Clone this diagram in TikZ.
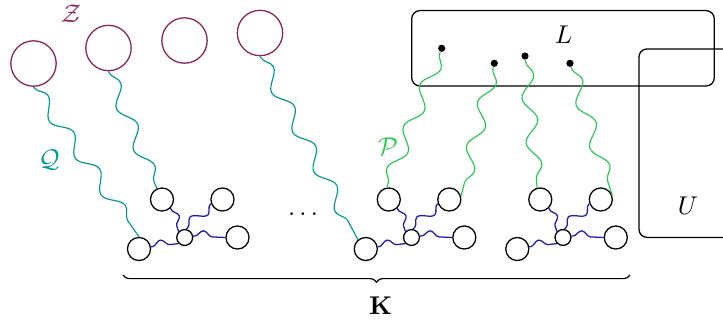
\documentclass[tikz,border=0pt]{standalone}
\usetikzlibrary{decorations.pathmorphing,decorations.pathreplacing}
\definecolor{zcol}{RGB}{140,35,90}
\definecolor{qcol}{RGB}{0,150,150}
\definecolor{pcol}{RGB}{40,200,80}
\definecolor{bcol}{RGB}{30,30,170}
\begin{document}
\begin{tikzpicture}[x=0.39pt,y=-0.39pt,
  zv/.style={circle,draw=zcol,line width=0.5pt,minimum size=17.7pt,inner sep=0pt},
  vtx/.style={circle,draw=black,line width=0.5pt,minimum size=9pt,inner sep=0pt},
  smallv/.style={circle,draw=black,line width=0.5pt,minimum size=6.2pt,inner sep=0pt},
  dotn/.style={circle,fill=black,minimum size=2.8pt,inner sep=0pt},
  boxn/.style={draw=black,line width=0.5pt,rounded corners=3.2pt,inner sep=0pt},
  qpath/.style={draw=qcol,line width=0.45pt,decorate,decoration={snake,segment length=17.5pt,amplitude=2.7pt,pre length=0.5pt,post length=0.5pt}},
  ppath/.style={draw=pcol,line width=0.45pt,decorate,decoration={snake,segment length=17.5pt,amplitude=2.7pt,pre length=0.5pt,post length=0.5pt}},
  bpath/.style={draw=bcol,line width=0.5pt,decorate,decoration={snake,segment length=11pt,amplitude=2.2pt,pre length=0.5pt,post length=0.5pt}},
  gadget/.pic={
    \node[smallv] (-c) at (0,0) {};
    \node[vtx] (-tl) at (-22.7,-38) {};
    \node[vtx] (-tr) at (37.8,-38) {};
    \node[vtx] (-bl) at (-45.7,11.5) {};
    \node[vtx] (-r) at (52.8,0) {};
    \draw[bpath] (-tl.-45) -- (-c.135);
    \draw[bpath] (-tr.200) -- (-c.80);
    \draw[bpath] (-c.10) -- (-r.180);
    \draw[bpath] (-bl.10) -- (-c.225);
  }]
\useasboundingbox (0,0) rectangle (723,322);
\clip (0,0) rectangle (723,322);

% Z circles
\node[zv] (z1) at (33.5,63.5) {};
\node[zv] (z2) at (108.5,48) {};
\node[zv] (z3) at (184.5,40.5) {};
\node[zv] (z4) at (260,33) {};
\node[text=zcol] (zlab) at (71,13.5) {$\mathcal{Z}$};

% gadgets
\pic (g1) at (184.7,237.5) {gadget};
\pic (g2) at (411.5,237.5) {gadget};
\pic (g3) at (563,237.5) {gadget};
\node[anchor=base] (dots) at (303,215.5) {$\ldots$};

% boxes
\node[boxn,minimum width=118pt,minimum height=29.4pt] (Lbox) at (563,48.3) {};
\node (Llab) at (563.5,35) {$L$};
\node[boxn,anchor=north west,minimum width=60pt,minimum height=73.5pt] (Ubox) at (638.3,48.3) {};
\node (Ulab) at (688,206) {$U$};

% dots in L
\node[dotn] (d1) at (441.7,48.3) {};
\node[dotn] (d2) at (494.3,63.3) {};
\node[dotn] (d3) at (525,56) {};
\node[dotn] (d4) at (570,63.3) {};

% Q paths
\draw[qpath] (z1.south) -- (g1-bl.north);
\draw[qpath] (z2.south) -- (g1-tl.115);
\draw[qpath] (z4.south) -- (g2-bl.130);
\node[text=qcol] (qlab) at (49,160) {$\mathcal{Q}$};

% P paths
\draw[ppath] (d1) -- (g2-tl.100);
\draw[ppath] (d2) -- (g2-tr.15);
\draw[ppath] (d3) -- (g3-tl.105);
\draw[ppath] (d4) -- (g3-tr.20);
\node[text=pcol] (plab) at (388,147) {$\mathcal{P}$};

% brace
\coordinate (bra) at (123,275);
\coordinate (brb) at (630,275);
\draw[line width=0.45pt,decorate,decoration={brace,mirror,amplitude=2.8pt}] (bra) -- (brb);
\node (klab) at (380.7,306) {$\mathbf{K}$};
\end{tikzpicture}
\end{document}
